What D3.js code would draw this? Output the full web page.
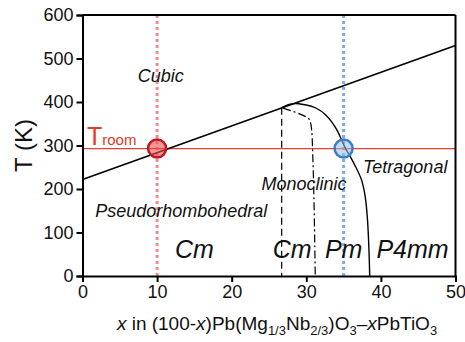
<!DOCTYPE html>
<html><head><meta charset="utf-8">
<script src="https://cdn.jsdelivr.net/npm/d3@7"></script>
<style>
html,body{margin:0;padding:0;background:#fff;}
svg{display:block;font-family:"Liberation Sans",Arial,sans-serif;}
</style></head>
<body><svg id="c" width="465" height="342"></svg>
<script>
// ---- data ----
const xTicks = [0, 10, 20, 30, 40, 50];
const yTicks = [0, 100, 200, 300, 400, 500, 600];
const cubicBoundary = [[0, 222], [50, 530]];
const roomT = 293;
const markX = [10, 35];
const mpbCurve = [[26.7, 387], [27.8, 395], [29, 396], [30, 393], [31, 388], [31.8, 381], [32.5, 372],
  [33.2, 359], [34, 339], [34.5, 322], [35.2, 295], [36, 271], [36.5, 255], [37.4, 221], [37.9, 182],
  [38.2, 130], [38.4, 60], [38.5, 0]];
const dashedLine = [[26.7, 387], [26.7, 0]];
const dashDotLine = [[26.9, 386], [30.3, 362], [30.6, 350], [30.9, 259], [31.2, 0]];
const phaseLabels = [
  {t: "Cubic", x: 7.4, y: 446, big: false},
  {t: "Pseudorhombohedral", x: 1.7, y: 136, big: false},
  {t: "Monoclinic", x: 24.0, y: 198, big: false},
  {t: "Tetragonal", x: 37.6, y: 237, big: false},
  {t: "Cm", x: 12.4, y: 41, big: true},
  {t: "Cm", x: 25.5, y: 41, big: true},
  {t: "Pm", x: 32.5, y: 41, big: true},
  {t: "P4mm", x: 39.4, y: 41, big: true}
];

// ---- layout ----
const svg = d3.select("#c");
const L = 82.5, R = 455.5, T = 15, B = 276;
const x = d3.scaleLinear().domain([0, 50]).range([L, R]);
const y = d3.scaleLinear().domain([0, 600]).range([B, T]);
const line = d3.line().x(d => x(d[0])).y(d => y(d[1]));

// dotted vertical markers
const markColors = ["#f28b8b", "#78b0df"];
markX.forEach((v, i) => {
  svg.append("line").attr("x1", x(v)).attr("x2", x(v)).attr("y1", y(600)).attr("y2", y(0))
    .attr("stroke", markColors[i]).attr("stroke-width", 3).attr("stroke-dasharray", "3,3");
});

// room temperature line
svg.append("line").attr("x1", x(0)).attr("x2", x(50)).attr("y1", y(roomT)).attr("y2", y(roomT))
  .attr("stroke", "#e8402a").attr("stroke-width", 1.3);

// boundaries
svg.append("path").attr("d", line(cubicBoundary)).attr("fill", "none").attr("stroke", "#000").attr("stroke-width", 1.6);
svg.append("path").attr("d", d3.line().x(d => x(d[0])).y(d => y(d[1])).curve(d3.curveCatmullRom)(mpbCurve))
  .attr("fill", "none").attr("stroke", "#000").attr("stroke-width", 1.4);
svg.append("path").attr("d", line(dashedLine)).attr("fill", "none").attr("stroke", "#000")
  .attr("stroke-width", 1.2).attr("stroke-dasharray", "7,4");
svg.append("path").attr("d", d3.line().x(d => x(d[0])).y(d => y(d[1])).curve(d3.curveCatmullRom)(dashDotLine))
  .attr("fill", "none").attr("stroke", "#000")
  .attr("stroke-width", 1.2).attr("stroke-dasharray", "8,3,2,3");

// axes
const xAxis = d3.axisBottom(x).tickValues(xTicks).tickSize(6).tickPadding(3);
const yAxis = d3.axisLeft(y).tickValues(yTicks).tickSize(6).tickPadding(3);
const gx = svg.append("g").attr("transform", `translate(0,${B})`).call(xAxis);
const gy = svg.append("g").attr("transform", `translate(${L},0)`).call(yAxis);
[gx, gy].forEach(g => {
  g.select(".domain").attr("stroke-width", 2).attr("stroke", "#000");
  g.selectAll(".tick line").attr("stroke-width", 2).attr("stroke", "#000");
  g.selectAll(".tick text").attr("font-size", 18).attr("fill", "#111")
    .attr("font-family", "'Liberation Sans',Arial,sans-serif");
});
// frame top & right
svg.append("line").attr("x1", L).attr("x2", R).attr("y1", T).attr("y2", T).attr("stroke", "#000").attr("stroke-width", 2);
svg.append("line").attr("x1", R).attr("x2", R).attr("y1", T).attr("y2", B).attr("stroke", "#000").attr("stroke-width", 2);

// phase labels
svg.selectAll("text.ph").data(phaseLabels).enter().append("text").attr("class", "ph")
  .attr("x", d => x(d.x)).attr("y", d => y(d.y))
  .attr("font-style", "italic").attr("font-size", d => d.big ? 25 : 18).attr("fill", "#111")
  .text(d => d.t);

// T_room label
const tr = svg.append("text").attr("x", x(0.6)).attr("y", y(301)).attr("fill", "#e43a26");
tr.append("tspan").attr("font-size", 25).text("T");
tr.append("tspan").attr("font-size", 15).text("room");

// circles
svg.append("circle").attr("cx", x(markX[0])).attr("cy", y(roomT)).attr("r", 9)
  .attr("fill", "rgba(235,80,80,0.6)").attr("stroke", "#c3161c").attr("stroke-width", 2.5);
svg.append("circle").attr("cx", x(markX[1])).attr("cy", y(roomT)).attr("r", 9)
  .attr("fill", "rgba(150,190,230,0.55)").attr("stroke", "#3a7ec2").attr("stroke-width", 2.5);

// axis titles
svg.append("text").attr("transform", `translate(32,${(T + B) / 2}) rotate(-90)`)
  .attr("text-anchor", "middle").attr("font-size", 24).attr("fill", "#111").text("T (K)");

const xl = svg.append("text").attr("x", 277).attr("y", 330).attr("text-anchor", "middle")
  .attr("font-size", 19).attr("fill", "#111");
const parts = [["x", "i"], [" in (100-", ""], ["x", "i"], [")Pb(Mg", ""], ["1/3", "s"], ["Nb", ""], ["2/3", "s"],
  [")O", ""], ["3", "s"], ["\u2013", ""], ["x", "i"], ["PbTiO", ""], ["3", "s"]];
let prevSub = false;
parts.forEach(p => {
  const ts = xl.append("tspan").text(p[0]);
  if (p[1] === "i") ts.attr("font-style", "italic");
  if (p[1] === "s") { ts.attr("font-size", 13).attr("dy", prevSub ? 0 : 4.5); prevSub = true; }
  else { if (prevSub) ts.attr("dy", -4.5); prevSub = false; }
});
</script></body></html>
